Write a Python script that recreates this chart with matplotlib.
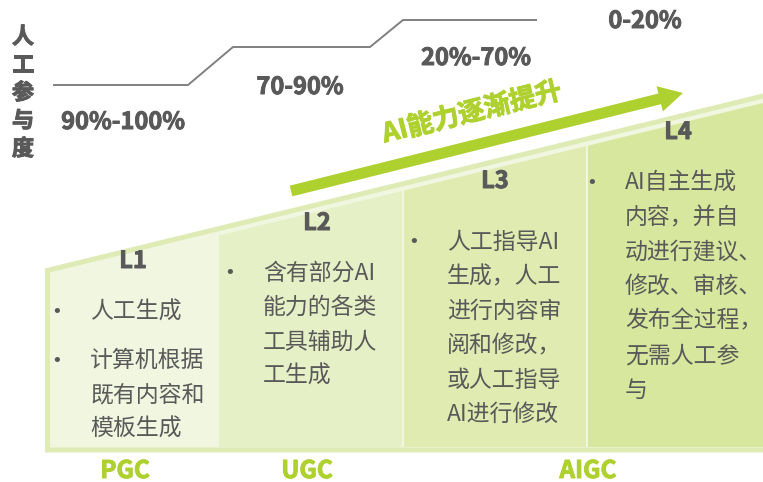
import numpy as np
import matplotlib.pyplot as plt
import matplotlib.patheffects as pe
from matplotlib.patches import Polygon, FancyArrow

plt.rcParams['font.family'] = ['Noto Sans CJK SC', 'DejaVu Sans']

# ---- content ----
levels = ['L1', 'L2', 'L3', 'L4']
stages = ['PGC', 'UGC', 'AIGC']
human_share = ['90%-100%', '70-90%', '20%-70%', '0-20%']
y_title = '人工参与度'
arrow_text = 'AI能力逐渐提升'
bullets = [
    [['人工生成'], ['计算机根据', '既有内容和', '模板生成']],
    [['含有部分AI', '能力的各类', '工具辅助人', '工生成']],
    [['人工指导AI', '生成，人工', '进行内容审', '阅和修改，', '或人工指导', 'AI进行修改']],
    [['AI自主生成', '内容，并自', '动进行建议、', '修改、审核、', '发布全过程，', '无需人工参', '与']],
]

# ---- layout (pixel space) ----
W, H = 763, 482
px = 72 / 100
edges = [45, 218, 403, 587, 763]
panel_cols = ['#f1f6e0', '#e6f0c6', '#dfebb1', '#d7e79d']
border_col = '#dfebb4'
green = '#aed12f'
grey = '#595959'
bottom = 452

def top(x):
    return 269 - 0.2437 * (x - 45)

def thick(c):
    # bold in the reference is heavier than Noto's bold, add a thin outline
    return [pe.withStroke(linewidth=0.7, foreground=c)]

fig = plt.figure(figsize=(W / 100, H / 100), dpi=100)
ax = fig.add_axes([0, 0, 1, 1])
ax.set_xlim(0, W)
ax.set_ylim(H, 0)
ax.axis('off')

# outer shape
outer = [(47.5, top(47.5) + 2), (W + 5, top(W + 5) + 2), (W + 5, bottom - 2), (47.5, bottom - 2)]
ax.add_patch(Polygon(outer, closed=True, facecolor=panel_cols[0], edgecolor=border_col,
                     lw=5 * px, joinstyle='miter'))

# panels L2..L4
for i in range(1, 4):
    x0 = edges[i] + 1
    x1 = edges[i + 1] - 1 if i < 3 else W + 2
    pts = [(x0, top(x0) + 9), (x1, top(x1) + 9), (x1, bottom - 5), (x0, bottom - 5)]
    ax.add_patch(Polygon(pts, closed=True, facecolor=panel_cols[i], edgecolor='none'))

# level headers
lvl_pos = [(133, 261), (317, 223), (495, 181), (678, 132)]
for lab, (x, y) in zip(levels, lvl_pos):
    ax.text(x, y, lab, ha='center', va='center', fontsize=17, fontweight='bold', color=grey,
            path_effects=thick(grey))

# bullet text
text_x = [90, 263, 447, 625]
start_y = [312, 273, 242, 183]
step = 34.5
for i, blist in enumerate(bullets):
    y = start_y[i]
    for b in blist:
        ax.text(text_x[i] - 33, y, '•', ha='center', va='center', fontsize=13,
                family='DejaVu Sans', color=grey)
        for line in b:
            ax.text(text_x[i], y, line, ha='left', va='center', fontsize=16.5, color=grey)
            y += step
        y += 14

# stage labels
stage_x = [125, 307, 588]
for lab, x in zip(stages, stage_x):
    ax.text(x, 471, lab, ha='center', va='center', fontsize=17.5, fontweight='bold', color=green,
            path_effects=thick(green))

# human participation step line
sx = [54, 188, 233, 370, 403, 536]
sy = [85, 85, 47, 47, 20, 20]
ax.plot(sx, sy, color='#808080', lw=1.4)
share_pos = [(123, 122), (300, 87), (476, 58), (645, 21)]
for lab, (x, y) in zip(human_share, share_pos):
    ax.text(x, y, lab, ha='center', va='center', fontsize=17, fontweight='bold', color=grey,
            path_effects=thick(grey))

# y title (vertical)
for k, ch in enumerate(y_title):
    ax.text(23, 37 + k * 28, ch, ha='center', va='center', fontsize=16, fontweight='bold',
            color=grey, path_effects=thick(grey))

# AI capability arrow
ax.add_patch(FancyArrow(291, 191, 392, -98, width=11, head_width=26, head_length=24,
                        length_includes_head=True, color=green, lw=0))
ax.text(472, 113, arrow_text, rotation=14, rotation_mode='anchor', ha='center', va='center',
        fontsize=19, fontweight='bold', color=green, path_effects=thick(green))

fig.savefig('out.png', dpi=100)
